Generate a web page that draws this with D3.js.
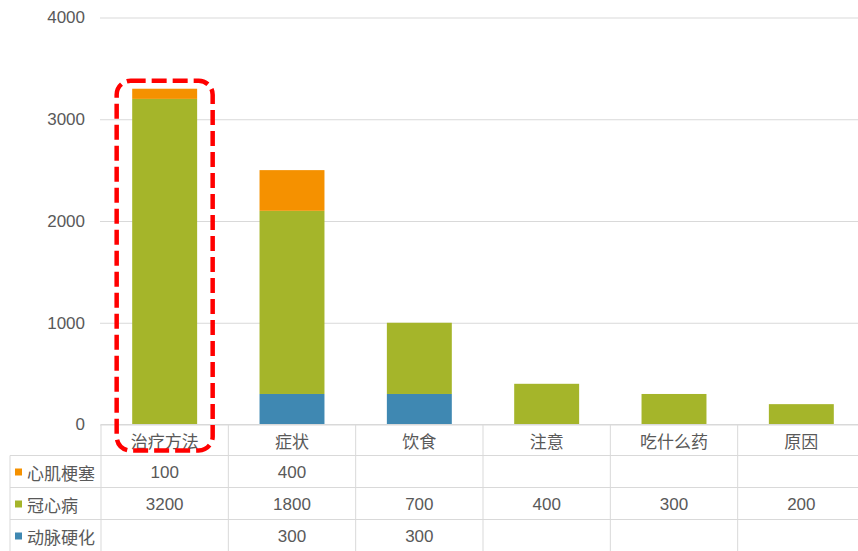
<!DOCTYPE html>
<html>
<head>
<meta charset="utf-8">
<script src="https://cdn.jsdelivr.net/npm/d3@7/dist/d3.min.js"></script>
<style>
  body { margin: 0; background: #fff; overflow: hidden; }
  svg { display: block; }
  text { font-family: "Liberation Sans", "Noto Sans CJK SC", sans-serif; fill: #595959; }
  .zh { font-family: "Noto Sans CJK SC", sans-serif; }
</style>
</head>
<body>
<div id="graf"></div>
<script>
// Datos
const categorias = ["治疗方法", "症状", "饮食", "注意", "吃什么药", "原因"]
const series = ["心肌梗塞", "冠心病", "动脉硬化"]
const xinjigengse = [100, 400, null, null, null, null]
const guanxinbing = [3200, 1800, 700, 400, 300, 200]
const dongmaiyinghua = [null, 300, 300, null, null, null]
const yTicks = [0, 1000, 2000, 3000, 4000]
const resaltado = "治疗方法"

const valores = {
  "心肌梗塞": xinjigengse,
  "冠心病": guanxinbing,
  "动脉硬化": dongmaiyinghua,
}
const colores = {
  "心肌梗塞": "#f59100",
  "冠心病": "#a5b52a",
  "动脉硬化": "#3f88b2",
}

const draw = () => {
  const anchoTotal = 858
  const altoTotal = 551

  const margins = { top: 17.5, left: 101, right: -7, bottom: 126.5 }
  const alto = altoTotal - margins.top - margins.bottom
  const ancho = anchoTotal - margins.left - margins.right
  const filaAlto = 32

  const dataset = categorias.map((c, i) => {
    const d = { cat: c }
    series.forEach((s) => (d[s] = valores[s][i] || 0))
    return d
  })

  const stack = d3.stack().keys(["动脉硬化", "冠心病", "心肌梗塞"])
  const apilado = stack(dataset)

  // Escaladores
  const x = d3.scaleBand()
    .domain(categorias)
    .range([0, ancho])
    .paddingInner(0.49)
    .paddingOuter(0.245)

  const y = d3.scaleLinear()
    .domain([0, 4000])
    .range([alto, 0])

  const svg = d3.select("#graf")
    .append("svg")
    .attr("width", anchoTotal)
    .attr("height", altoTotal)

  const chart = svg.append("g")
    .attr("transform", `translate(${margins.left}, ${margins.top})`)

  // Rejilla
  const yAxis = d3.axisLeft(y)
    .tickValues(yTicks)
    .tickSize(-ancho)
    .tickPadding(16)
    .tickFormat(d3.format("d"))

  const yAxisGroup = chart.append("g").call(yAxis)
  yAxisGroup.select(".domain").remove()
  yAxisGroup.selectAll(".tick line")
    .attr("stroke", "#d9d9d9")
    .attr("stroke-width", 1)
    .attr("x1", -1)
  yAxisGroup.selectAll(".tick text")
    .style("font-size", "17px")
    .attr("fill", "#595959")

  // Barras
  chart.append("g")
    .selectAll("g")
    .data(apilado)
    .join("g")
    .attr("fill", (s) => colores[s.key])
    .selectAll("rect")
    .data((s) => s.filter((d) => d[1] > d[0]))
    .join("rect")
    .attr("x", (d) => x(d.data.cat))
    .attr("y", (d) => y(d[1]))
    .attr("width", x.bandwidth())
    .attr("height", (d) => y(d[0]) - y(d[1]))

  // Tabla de datos
  const tabla = svg.append("g")
    .attr("transform", `translate(0, ${margins.top + alto})`)
  const lineaColor = "#d9d9d9"
  const paso = x.step()
  const x0 = margins.left + x(categorias[0]) - x.paddingOuter() * paso

  tabla.append("line")
    .attr("x1", x0).attr("x2", anchoTotal)
    .attr("y1", 0).attr("y2", 0)
    .attr("stroke", lineaColor)

  d3.range(categorias.length + 1).forEach((i) => {
    tabla.append("line")
      .attr("x1", x0 + i * paso).attr("x2", x0 + i * paso)
      .attr("y1", 0).attr("y2", altoTotal)
      .attr("stroke", lineaColor)
  })

  tabla.append("line")
    .attr("x1", 10).attr("x2", 10)
    .attr("y1", filaAlto - 1).attr("y2", altoTotal)
    .attr("stroke", lineaColor)

  series.forEach((s, i) => {
    const yy = filaAlto - 1 + i * filaAlto
    tabla.append("line")
      .attr("x1", 10).attr("x2", anchoTotal)
      .attr("y1", yy).attr("y2", yy)
      .attr("stroke", lineaColor)
  })

  tabla.selectAll("text.cat")
    .data(categorias)
    .join("text")
    .classed("cat zh", true)
    .attr("x", (d) => margins.left + x(d) + x.bandwidth() / 2)
    .attr("y", filaAlto / 2 - 0.5)
    .attr("text-anchor", "middle")
    .attr("dominant-baseline", "central")
    .style("font-size", "17px")
    .text((d) => d)

  series.forEach((s, i) => {
    const cy = filaAlto - 1 + i * filaAlto + filaAlto / 2 + 0.5
    tabla.append("rect")
      .attr("x", 15)
      .attr("y", cy - 3.5)
      .attr("width", 7)
      .attr("height", 7)
      .attr("fill", colores[s])
    tabla.append("text")
      .classed("zh", true)
      .attr("x", 27)
      .attr("y", cy)
      .attr("dominant-baseline", "central")
      .style("font-size", "17px")
      .text(s)
    tabla.selectAll(null)
      .data(categorias)
      .join("text")
      .attr("x", (d) => margins.left + x(d) + x.bandwidth() / 2)
      .attr("y", cy)
      .attr("text-anchor", "middle")
      .attr("dominant-baseline", "central")
      .style("font-size", "17px")
      .text((d, j) => (valores[s][j] == null ? "" : valores[s][j]))
  })

  // Recuadro rojo
  const cx = margins.left + x(resaltado) + x.bandwidth() / 2
  const topY = margins.top + y(3300) - 8
  const botY = margins.top + alto + filaAlto - 6
  svg.append("rect")
    .attr("x", cx - 48)
    .attr("y", topY)
    .attr("width", 96)
    .attr("height", botY - topY)
    .attr("rx", 14)
    .attr("fill", "none")
    .attr("stroke", "#ff0000")
    .attr("stroke-width", 4.5)
    .attr("stroke-dasharray", "15 6")
}

draw()
</script>
</body>
</html>
